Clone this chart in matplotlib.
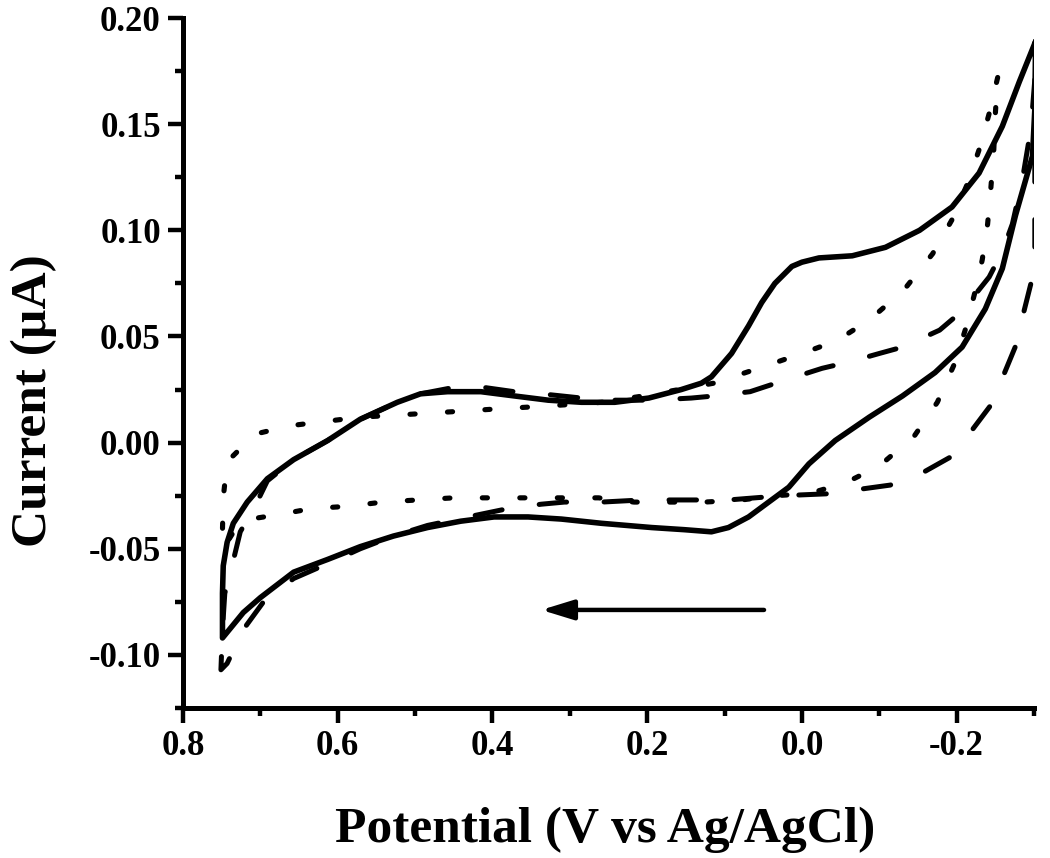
import numpy as np
import matplotlib
matplotlib.use("Agg")
import matplotlib.pyplot as plt
from matplotlib.ticker import MultipleLocator

plt.rcParams["font.family"] = ["Liberation Serif", "DejaVu Serif"]
plt.rcParams["font.weight"] = "bold"
plt.rcParams["axes.unicode_minus"] = False

# solid loop (potential V, current uA)
solid_v = [-0.302, -0.281, -0.259, -0.229, -0.194, -0.152, -0.108, -0.065, -0.022, 0.000,
           0.013, 0.035, 0.052, 0.069, 0.091, 0.117, 0.130, 0.156, 0.198, 0.242,
           0.285, 0.328, 0.372, 0.415, 0.458, 0.493, 0.523, 0.571, 0.613, 0.657,
           0.691, 0.717, 0.735, 0.743, 0.748, 0.749, 0.749, 0.749,
           0.722, 0.700, 0.657, 0.613, 0.571, 0.528, 0.484, 0.441, 0.398, 0.354,
           0.311, 0.259, 0.194, 0.152, 0.117, 0.095, 0.069, 0.043, 0.017, -0.009,
           -0.043, -0.087, -0.130, -0.172, -0.207, -0.237, -0.259, -0.276, -0.298, -0.301, -0.302]
solid_i = [0.189, 0.170, 0.149, 0.127, 0.111, 0.100, 0.092, 0.088, 0.087, 0.085,
           0.083, 0.075, 0.066, 0.055, 0.042, 0.031, 0.028, 0.025, 0.021, 0.019,
           0.019, 0.020, 0.022, 0.024, 0.024, 0.023, 0.019, 0.011, 0.001, -0.008,
           -0.017, -0.028, -0.038, -0.047, -0.058, -0.071, -0.081, -0.092,
           -0.080, -0.073, -0.061, -0.055, -0.049, -0.044, -0.040, -0.037, -0.035, -0.035,
           -0.036, -0.038, -0.040, -0.041, -0.042, -0.040, -0.035, -0.028, -0.021, -0.010,
           0.001, 0.012, 0.022, 0.033, 0.045, 0.063, 0.082, 0.107, 0.135, 0.157, 0.189]

# dotted loop
dot_v = [-0.253, -0.242, -0.229, -0.214, -0.194, -0.169, -0.132, -0.088, -0.045, 0.000,
         0.048, 0.114, 0.159, 0.205, 0.259, 0.298, 0.341, 0.389, 0.432, 0.477,
         0.523, 0.571, 0.616, 0.661, 0.707, 0.743, 0.748, 0.749, 0.748,
         0.733, 0.713, 0.678, 0.633, 0.587, 0.542, 0.497, 0.450, 0.399, 0.354,
         0.309, 0.263, 0.217, 0.172, 0.126, 0.078, 0.035, -0.009, -0.056, -0.100,
         -0.145, -0.175, -0.197, -0.211, -0.223, -0.233, -0.240, -0.244, -0.248, -0.250, -0.253]
dot_i = [0.172, 0.155, 0.138, 0.122, 0.105, 0.089, 0.072, 0.058, 0.048, 0.042,
         0.036, 0.028, 0.025, 0.022, 0.019, 0.018, 0.017, 0.016, 0.015, 0.014,
         0.013, 0.012, 0.010, 0.008, 0.004, -0.009, -0.026, -0.041, -0.050,
         -0.041, -0.036, -0.034, -0.031, -0.030, -0.028, -0.027, -0.026, -0.026, -0.026,
         -0.026, -0.026, -0.028, -0.028, -0.028, -0.027, -0.025, -0.024, -0.019, -0.011,
         0.003, 0.019, 0.037, 0.053, 0.070, 0.086, 0.103, 0.119, 0.138, 0.155, 0.172]

# dashed loop
dash_v = [-0.301, -0.296, -0.285, -0.272, -0.259, -0.242, -0.207, -0.178, -0.130, -0.100,
          -0.061, -0.026, 0.017, 0.067, 0.113, 0.143, 0.194, 0.259, 0.337, 0.372,
          0.411, 0.450, 0.493, 0.523, 0.571, 0.613, 0.657, 0.691, 0.707, 0.726,
          0.736, 0.746, 0.749, 0.751,
          0.743, 0.722, 0.696, 0.657, 0.613, 0.571, 0.528, 0.484, 0.432, 0.379,
          0.337, 0.307, 0.259, 0.207, 0.152, 0.095, 0.026, -0.039, -0.074, -0.114,
          -0.147, -0.191, -0.218, -0.249, -0.262, -0.279, -0.285, -0.296, -0.301, -0.301, -0.301]
dash_i = [0.171, 0.148, 0.124, 0.103, 0.090, 0.078, 0.062, 0.053, 0.045, 0.042,
          0.038, 0.035, 0.030, 0.024, 0.022, 0.021, 0.020, 0.020, 0.023, 0.024,
          0.026, 0.026, 0.023, 0.019, 0.011, 0.001, -0.008, -0.018, -0.030, -0.042,
          -0.057, -0.071, -0.088, -0.107,
          -0.104, -0.088, -0.075, -0.064, -0.057, -0.050, -0.044, -0.039, -0.035, -0.031,
          -0.029, -0.028, -0.028, -0.027, -0.027, -0.027, -0.025, -0.024, -0.022, -0.020,
          -0.016, -0.007, 0.005, 0.020, 0.033, 0.048, 0.059, 0.075, 0.089, 0.130, 0.171]

# scan direction arrow (tail -> head)
arrow_v = [0.049, 0.337]
arrow_i = [-0.0788, -0.0788]

x_ticks = [0.8, 0.6, 0.4, 0.2, 0.0, -0.2]
x_labels = ["0.8", "0.6", "0.4", "0.2", "0.0", "-0.2"]
y_ticks = [0.20, 0.15, 0.10, 0.05, 0.00, -0.05, -0.10]
y_labels = ["0.20", "0.15", "0.10", "0.05", "0.00", "-0.05", "-0.10"]

fig = plt.figure(figsize=(10.5, 8.58), dpi=100)
ax = fig.add_axes([0.1743, 0.1748, 0.8105, 0.8042])

ax.plot(solid_v, solid_i, color="black", lw=4.0, solid_capstyle="round", solid_joinstyle="round")
ax.plot(dot_v, dot_i, color="black", lw=3.7, linestyle=(0, (1.0, 6.3)), dash_capstyle="round")
ax.plot(dash_v, dash_i, color="black", lw=3.6, linestyle=(0, (5.5, 7.5)), dash_capstyle="round")

ax.annotate("", xy=(arrow_v[1], arrow_i[1]), xytext=(arrow_v[0], arrow_i[0]),
            arrowprops=dict(arrowstyle="-|>,head_length=1.3,head_width=0.4", lw=3.2,
                            color="black", shrinkA=0, shrinkB=0, mutation_scale=15))

ax.set_xlim(0.8, -0.3)
ax.set_ylim(-0.125, 0.20)
ax.set_xticks(x_ticks)
ax.set_xticklabels(x_labels)
ax.set_yticks(y_ticks)
ax.set_yticklabels(y_labels)
ax.xaxis.set_minor_locator(MultipleLocator(0.1))
ax.yaxis.set_minor_locator(MultipleLocator(0.025))

for s in ["top", "right"]:
    ax.spines[s].set_visible(False)
for s in ["left", "bottom"]:
    ax.spines[s].set_linewidth(3.6)

ax.tick_params(which="major", direction="out", length=11, width=3.2, labelsize=25, pad=5)
ax.tick_params(which="minor", direction="out", length=6, width=3.2)
for lab in ax.get_xticklabels() + ax.get_yticklabels():
    lab.set_fontweight("bold")

ax.set_xlabel("Potential (V vs Ag/AgCl)", fontsize=37, fontweight="bold")
ax.set_ylabel("Current (\u00b5A)", fontsize=37, fontweight="bold")
ax.xaxis.set_label_coords(0.496, -0.143)
ax.yaxis.set_label_coords(-0.148, 0.445)

fig.savefig("out.png", dpi=100)
